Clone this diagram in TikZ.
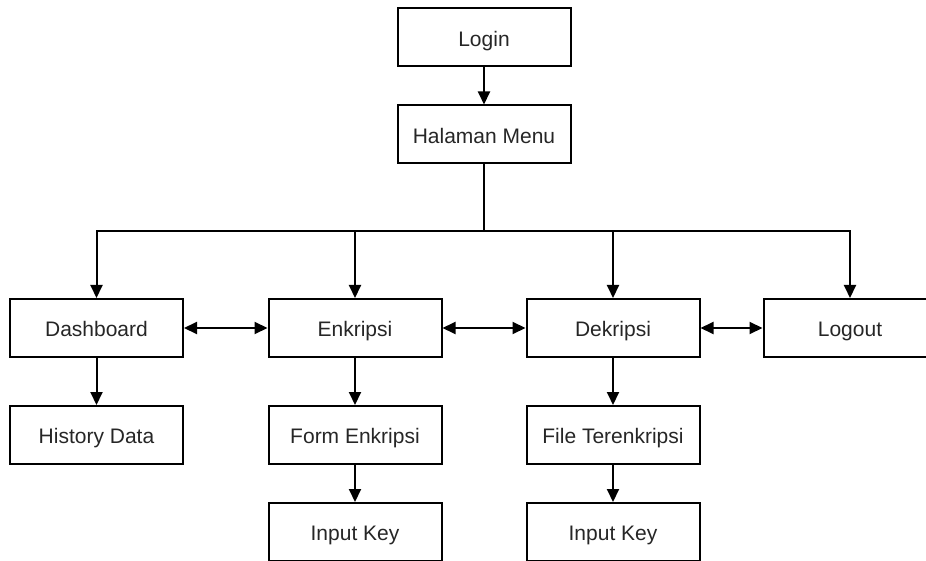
\documentclass[tikz,border=0pt]{standalone}
\usepackage{fontspec}
\setmainfont{Liberation Sans}
\usetikzlibrary{arrows.meta}
\begin{document}
\begin{tikzpicture}[x=1pt,y=-1pt,
  box/.style={draw, line width=2pt, minimum width=173pt, minimum height=58pt, inner sep=0pt,
    font=\fontsize{21}{25}\selectfont, text=black!85, text height=18pt, text depth=0.6pt},
  arr/.style={line width=2pt, -{Triangle[length=13pt,width=12pt]}},
  darr/.style={line width=2pt, {Triangle[length=13pt,width=12pt]}-{Triangle[length=13pt,width=12pt]}},
  ln/.style={line width=2pt}]
\useasboundingbox (0,0) rectangle (926,561);
\node[box] (login) at (484,37.5) {Login};
\node[box] (menu) at (484,134.5) {Halaman Menu};
\node[box] (dash) at (96.5,328) {Dashboard};
\node[box] (enk) at (355,328) {Enkripsi};
\node[box] (dek) at (613,328) {Dekripsi};
\node[box] (logout) at (850,328) {Logout};
\node[box] (hist) at (96.5,435) {History Data};
\node[box] (form) at (355,435) {Form Enkripsi};
\node[box] (file) at (613,435) {File Terenkripsi};
\node[box] (key1) at (355,532) {Input Key};
\node[box] (key2) at (613,532) {Input Key};
\coordinate (j) at (484,231.5);
\draw[arr] (login) -- (menu);
\draw[ln] (menu.south) -- (j);
\draw[arr] (j) -| (dash.north);
\draw[arr] (j) -| (enk.north);
\draw[arr] (j) -| (dek.north);
\draw[arr] (j) -| (logout.north);
\draw[darr] (dash) -- (enk);
\draw[darr] (enk) -- (dek);
\draw[darr] (dek) -- (logout);
\draw[arr] (dash) -- (hist);
\draw[arr] (enk) -- (form);
\draw[arr] (dek) -- (file);
\draw[arr] (form) -- (key1);
\draw[arr] (file) -- (key2);
\end{tikzpicture}
\end{document}
